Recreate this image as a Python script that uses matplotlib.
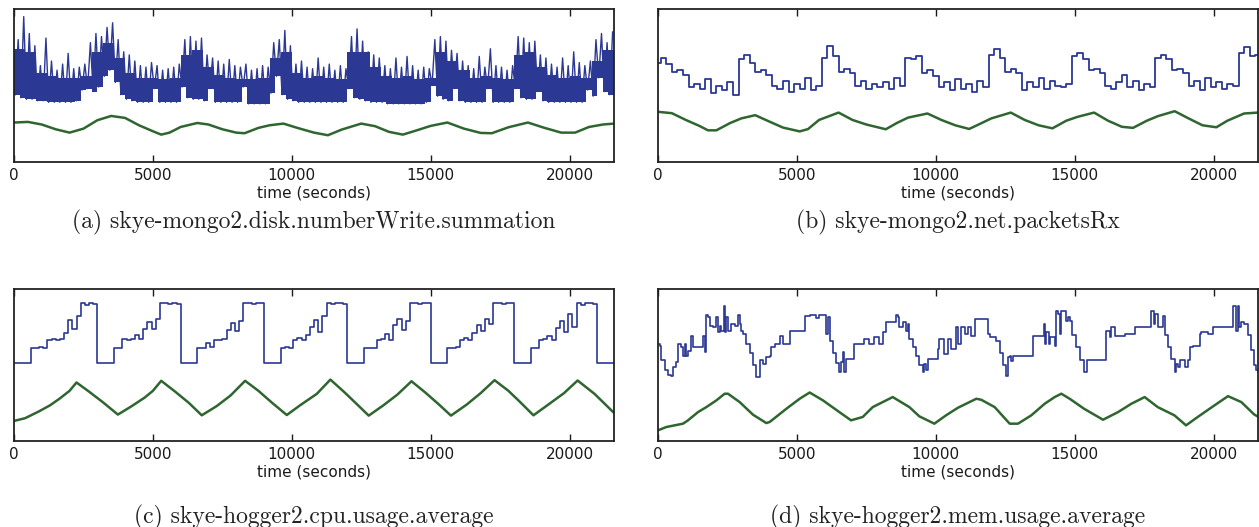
import numpy as np
import matplotlib
matplotlib.use("Agg")
import matplotlib.pyplot as plt

# four monitoring metrics, 6 hours each; y in percent of panel height
T_END = 21600
BLUE = '#2b3894'
GREEN = '#2f6630'

captions = ['(a) skye-mongo2.disk.numberWrite.summation',
            '(b) skye-mongo2.net.packetsRx',
            '(c) skye-hogger2.cpu.usage.average',
            '(d) skye-hogger2.mem.usage.average']

# (a) disk writes: max / min per 200 s bin, plus the top of the dense core per 400 s
a_bin = 200
a_hi = [80, 95, 84, 76, 63, 81, 66, 60, 64, 71, 61, 62, 64, 78, 84, 82, 88, 91, 80, 72,
        70, 66, 63, 62, 65, 63, 60, 61, 62, 64, 80, 82, 79, 81, 70, 68, 66, 64, 67, 63,
        62, 64, 60, 61, 63, 62, 78, 80, 86, 76, 64, 66, 62, 61, 68, 62, 64, 60, 63, 61,
        82, 87, 79, 72, 70, 68, 63, 61, 68, 62, 69, 63, 60, 62, 61, 80, 82, 79, 73, 71,
        66, 63, 61, 69, 62, 74, 63, 62, 60, 63, 82, 81, 78, 79, 70, 68, 64, 62, 68, 63,
        72, 65, 63, 66, 80, 84, 78, 85]
a_lo = [44, 42, 41, 41, 40, 40, 39, 39, 39, 39, 39, 40, 47, 48, 46, 49, 56, 60, 52, 44,
        41, 40, 39, 39, 39, 48, 39, 39, 39, 39, 49, 42, 41, 41, 40, 48, 39, 39, 39, 39,
        39, 49, 38, 38, 38, 38, 45, 56, 44, 41, 40, 39, 39, 39, 39, 39, 39, 39, 39, 39,
        48, 42, 41, 40, 39, 39, 39, 38, 38, 38, 38, 38, 38, 38, 39, 50, 43, 41, 40, 48,
        40, 39, 39, 39, 39, 48, 39, 39, 39, 39, 48, 42, 41, 41, 46, 40, 39, 39, 39, 39,
        39, 39, 39, 47, 43, 55, 46, 44]
a_core = [74, 72, 58, 56, 55, 55, 56, 72, 78, 68, 58, 55, 55, 54, 55, 70, 73, 62,
          57, 55, 54, 54, 55, 68, 72, 58, 55, 56, 55, 54, 72, 72, 62, 56, 55, 56,
          54, 55, 72, 66, 60, 55, 56, 55, 54, 70, 72, 62, 57, 55, 56, 55, 66, 73]
a_smooth = [(0, 25.8), (500, 26.2), (1000, 24.5), (1500, 21.4), (2000, 19.2), (2500, 21.8),
            (3000, 27.3), (3500, 30.1), (4000, 28.8), (4500, 24.0), (5000, 20.1), (5300, 17.9),
            (5600, 19.2), (6000, 22.9), (6600, 25.5), (7000, 24.5), (7500, 21.4), (8000, 19.2),
            (8300, 18.8), (8800, 22.3), (9200, 24.0), (9700, 25.1), (10200, 22.3), (10800, 19.2),
            (11300, 17.5), (11800, 21.2), (12500, 25.1), (13000, 23.4), (13500, 19.7),
            (14000, 17.9), (14500, 20.7), (15000, 23.6), (15600, 25.8), (16200, 21.8),
            (16800, 19.0), (17200, 18.8), (17800, 22.7), (18500, 25.8), (19100, 22.3),
            (19700, 19.2), (20200, 19.2), (20700, 22.9), (21200, 24.5), (21600, 25.1)]

# (b) packets received, sampled every 200 s
b_step = 200
b_raw = [65, 68, 64, 59, 60, 57, 49, 51, 48, 54, 45, 50, 47, 52, 44, 67, 70, 65, 59, 60,
         57, 50, 48, 53, 46, 51, 48, 55, 47, 50, 68, 76, 69, 59, 61, 58, 50, 53, 48, 51,
         49, 52, 48, 55, 50, 68, 67, 69, 58, 60, 56, 49, 52, 47, 54, 48, 51, 46, 53, 49,
         70, 74, 68, 59, 61, 58, 47, 52, 49, 55, 48, 53, 50, 49, 51, 69, 71, 67, 60, 61,
         58, 50, 48, 52, 57, 49, 53, 47, 51, 49, 68, 70, 67, 60, 61, 58, 50, 53, 47, 55,
         49, 52, 48, 51, 50, 71, 75, 69, 70]
b_smooth = [(0, 32.8), (500, 31.9), (1000, 27.5), (1500, 23.5), (1800, 20.7), (2100, 20.7),
            (2600, 25.5), (3000, 28.5), (3500, 30.6), (4000, 26.5), (4500, 22.5), (5100, 20.0),
            (5400, 21.5), (5800, 27.5), (6500, 32.3), (7000, 27.5), (7500, 24.5), (8200, 21.4),
            (8600, 25.5), (9000, 29.0), (9700, 31.7), (10200, 27.5), (10700, 24.0),
            (11200, 21.6), (11600, 25.0), (12000, 28.5), (12700, 32.3), (13200, 27.5),
            (13700, 24.0), (14200, 22.0), (14700, 27.0), (15100, 29.5), (15700, 32.3),
            (16200, 27.0), (16700, 23.0), (17100, 22.3), (17600, 27.0), (18000, 30.0),
            (18600, 33.2), (19100, 28.5), (19600, 24.0), (20100, 22.7), (20500, 27.0),
            (21100, 31.7), (21600, 32.3)]

# (c) cpu usage, sampled every 150 s
c_step = 150
c_raw = [51.6, 51.6, 51.6, 51.6, 61.3, 61.3, 61.8, 61.3, 66.4, 66.9, 66.4, 67.2, 71.0, 79.5, 73.5, 82.0, 90.5, 89.8, 90.5, 90.0,
         51.6, 51.6, 51.6, 51.6, 61.3, 61.3, 66.8, 66.4, 67.4, 69.5, 66.9, 74.0, 78.0, 73.5, 80.5, 90.5, 90.5, 90.0, 90.5, 90.3,
         51.6, 51.6, 51.6, 51.6, 61.3, 61.3, 64.5, 61.8, 66.4, 66.4, 67.0, 73.0, 77.5, 72.5, 79.0, 90.5, 90.5, 90.2, 90.5, 90.5,
         51.6, 51.6, 51.6, 51.6, 61.3, 61.6, 61.3, 66.4, 67.5, 66.4, 70.0, 75.0, 79.5, 72.0, 82.5, 90.5, 89.9, 90.5, 90.5, 90.2,
         51.6, 51.6, 51.6, 51.6, 61.3, 61.3, 61.3, 66.4, 66.9, 70.5, 66.4, 76.0, 80.0, 73.0, 79.0, 90.5, 90.5, 90.0, 90.5, 90.5,
         51.6, 51.6, 51.6, 51.6, 61.3, 61.3, 62.0, 66.4, 67.5, 66.4, 71.0, 76.5, 72.5, 80.5, 77.0, 90.5, 90.5, 90.2, 90.5, 90.5,
         51.6, 51.6, 51.6, 51.6, 61.3, 61.3, 66.4, 67.0, 69.0, 66.4, 74.5, 79.0, 72.0, 83.5, 75.0, 90.5, 89.8, 90.5, 90.5, 90.3,
         51.6, 51.6, 51.6, 51.6, 51.6]
c_smooth = [(0, 13.2), (400, 15.0), (900, 19.5), (1300, 23.5), (1650, 28.0), (2000, 33.0),
            (2250, 38.5), (2700, 32.5), (3200, 25.5), (3740, 17.4), (4200, 22.5), (4700, 28.5),
            (5000, 33.0), (5300, 39.6), (5800, 32.5), (6300, 25.0), (6760, 16.9), (7300, 23.0),
            (7800, 30.0), (8320, 39.6), (8800, 33.0), (9300, 25.0), (9820, 17.1), (10300, 23.5),
            (10900, 31.0), (11390, 40.4), (11900, 32.0), (12300, 25.0), (12770, 16.7),
            (13300, 23.5), (13800, 30.5), (14310, 39.3), (14800, 32.0), (15300, 24.0),
            (15730, 16.7), (16300, 24.0), (16800, 31.5), (17300, 40.0), (17800, 33.0),
            (18200, 26.0), (18700, 16.9), (19200, 23.5), (19800, 31.5), (20290, 39.8),
            (20900, 31.0), (21600, 18.5)]

# (d) memory usage at its change points
d_raw = [(0, 63.9), (60, 62.8), (120, 53.0), (240, 46.4), (360, 43.1), (480, 42.5), (540, 48.6),
         (660, 51.9), (720, 63.9), (840, 61.7), (900, 56.0), (960, 63.9), (1020, 56.0),
         (1080, 59.5), (1200, 69.4), (1260, 61.7), (1620, 69.4), (1680, 58.4), (1740, 83.2),
         (1800, 81.4), (1860, 75.9), (1980, 74.8), (2100, 81.4), (2160, 71.6), (2220, 75.9),
         (2280, 72.6), (2360, 89.0), (2400, 71.6), (2460, 81.4), (2520, 72.6), (2640, 76.8),
         (2760, 75.7), (2880, 83.2), (2940, 76.8), (2990, 72.6), (3060, 70.5), (3180, 64.0),
         (3300, 58.0), (3420, 50.0), (3540, 42.0), (3660, 53.0), (3780, 50.8), (3900, 55.1),
         (4020, 56.2), (4080, 61.7), (4200, 63.9), (4380, 69.4), (4500, 63.9), (4740, 72.6),
         (5280, 82.5), (5460, 83.2), (5700, 81.0), (5800, 83.2), (6060, 70.5), (6120, 81.4),
         (6180, 66.1), (6300, 58.0), (6420, 51.0), (6530, 45.3), (6580, 51.9), (6650, 58.4),
         (6710, 45.3), (6770, 54.0), (7070, 63.9), (7430, 67.2), (7610, 63.9), (7790, 68.3),
         (7970, 63.9), (8090, 71.6), (8210, 78.1), (8550, 83.2), (8630, 81.4), (8690, 74.8),
         (8810, 78.1), (8930, 72.6), (8990, 77.0), (9050, 67.0), (9170, 62.0), (9290, 56.0),
         (9410, 50.0), (9530, 45.3), (9590, 50.8), (9650, 46.4), (9710, 54.0), (10070, 60.6),
         (10130, 67.0), (10310, 57.1), (10430, 67.0), (10550, 60.6), (10730, 74.8),
         (10800, 63.9), (10920, 74.8), (11040, 70.5), (11160, 74.8), (11280, 69.4),
         (11400, 80.3), (11820, 80.3), (11880, 70.5), (11940, 68.3), (12180, 66.0),
         (12300, 58.0), (12420, 50.0), (12540, 43.0), (12600, 55.0), (12660, 56.2),
         (12720, 52.9), (12780, 56.2), (13500, 69.4), (13880, 77.0), (13920, 63.9),
         (13980, 71.6), (14060, 63.9), (14120, 68.3), (14300, 62.8), (14340, 85.8),
         (14400, 83.6), (14460, 70.5), (14520, 85.8), (14700, 79.2), (14760, 81.4),
         (14820, 79.2), (14920, 70.0), (15060, 62.0), (15200, 53.0), (15340, 45.3),
         (15460, 53.0), (16140, 72.6), (16260, 68.3), (16320, 74.8), (16440, 69.4),
         (16800, 70.5), (17160, 74.8), (17760, 85.8), (17840, 77.0), (17900, 83.6),
         (18000, 74.8), (18180, 82.5), (18240, 70.0), (18360, 62.0), (18480, 54.0),
         (18600, 45.3), (18660, 50.8), (18720, 48.6), (18780, 53.0), (18960, 48.6),
         (19080, 53.0), (19140, 61.7), (19260, 62.8), (19500, 70.5), (19560, 71.6),
         (19800, 70.5), (19980, 74.8), (20690, 89.0), (20810, 72.6), (20870, 89.0),
         (20930, 74.8), (20990, 78.1), (21110, 77.0), (21240, 70.0), (21360, 60.0),
         (21450, 50.0), (21540, 46.4), (21600, 45.3)]
d_smooth = [(0, 7.0), (300, 9.2), (900, 11.4), (1080, 13.6), (1440, 19.0), (1740, 22.3),
            (2100, 26.7), (2400, 31.1), (2520, 31.1), (2940, 25.6), (3420, 17.3), (3900, 11.8),
            (4020, 12.5), (4620, 21.2), (5100, 27.8), (5460, 31.9), (5940, 26.7), (6530, 19.0),
            (6950, 13.6), (7370, 15.8), (7730, 22.3), (8090, 25.6), (8450, 28.9), (9050, 22.3),
            (9410, 16.2), (9950, 11.4), (10370, 16.9), (10800, 21.9), (11460, 27.8),
            (11640, 27.1), (12120, 22.3), (12660, 11.4), (12960, 11.4), (13440, 16.9),
            (13920, 24.5), (14280, 28.9), (14520, 31.1), (14820, 27.8), (15340, 21.2),
            (16020, 14.0), (16560, 19.0), (17040, 24.5), (17520, 28.9), (17990, 22.3),
            (18590, 16.9), (19010, 10.3), (19430, 15.8), (20030, 23.4), (20520, 29.5),
            (21000, 25.6), (21460, 17.5), (21600, 16.0)]

plt.rcParams['font.family'] = 'DejaVu Sans'
fig = plt.figure(figsize=(12.59, 5.27), dpi=100)

# axes boxes in figure pixels: left, top, width, height
boxes = [(14, 9, 600, 153), (658, 9, 600, 153), (14, 289, 600, 152), (658, 289, 600, 152)]
caption_y = [222, 222, 517, 517]
W, H = 1259, 527

axes = []
for (l, t, w, h) in boxes:
    ax = fig.add_axes([l / W, 1 - (t + h) / H, w / W, h / H])
    axes.append(ax)


def split(pairs):
    t, v = zip(*pairs)
    return list(t), list(v)


# (a) solid core from the bin minimum up to the core top, spikes up to the bin maximum
starts = np.arange(0, T_END, a_bin)
edge_t = np.append(starts, T_END)
core = np.repeat(a_core, 2)
axes[0].fill_between(edge_t, np.append(a_lo, a_lo[-1]), np.append(core, core[-1]),
                     step='post', color=BLUE, lw=0)
zig_t = np.column_stack([starts + a_bin * 0.25, starts + a_bin * 0.75]).ravel()
zig_v = np.column_stack([a_lo, a_hi]).ravel()
axes[0].plot(zig_t, zig_v, color=BLUE, lw=1.0)
axes[0].plot(*split(a_smooth), color=GREEN, lw=1.8)

# (b)
tb = np.arange(0, T_END + 1, b_step)
axes[1].step(tb, b_raw, where='mid', color=BLUE, lw=1.3)
axes[1].plot(*split(b_smooth), color=GREEN, lw=1.8)

# (c)
tc = np.arange(0, T_END + 1, c_step)
axes[2].step(tc, c_raw, where='post', color=BLUE, lw=1.2)
axes[2].plot(*split(c_smooth), color=GREEN, lw=1.8)

# (d)
axes[3].step(*split(d_raw), where='post', color=BLUE, lw=1.2)
axes[3].plot(*split(d_smooth), color=GREEN, lw=1.8)

for i, ax in enumerate(axes):
    ax.set_xlim(0, T_END)
    ax.set_ylim(0, 100)
    ax.set_yticks([])
    ax.set_xticks([0, 5000, 10000, 15000, 20000])
    ax.tick_params(axis='x', direction='in', top=True, length=5, width=1,
                   labelsize=11, pad=4, colors='#1a1a1a')
    for s in ax.spines.values():
        s.set_linewidth(1.3)
        s.set_color('#222222')
    ax.set_xlabel('time (seconds)', fontsize=11, labelpad=2, color='#1a1a1a')
    l, t, w, h = boxes[i]
    fig.text((l + w / 2) / W, 1 - caption_y[i] / H, captions[i], family='cmr10',
             fontsize=17, ha='center', va='center', color='#222222')

fig.savefig('out.png', dpi=100)
